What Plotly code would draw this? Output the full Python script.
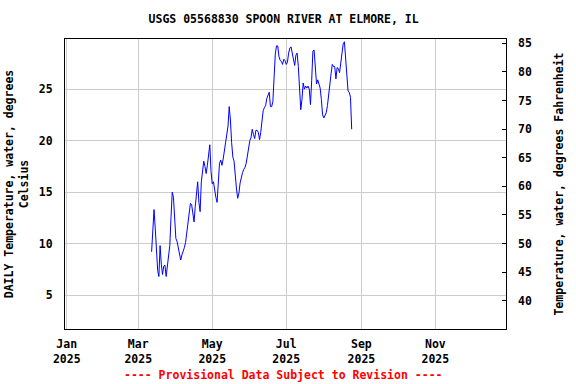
import datetime as dt
import plotly.graph_objects as go

start_date = "2025-03-12"
temps_c = [
    9.2, 11.3, 13.3, 11.5, 9.0, 7.4, 6.8, 9.8, 8.0, 7.0,
    7.8, 7.9, 6.8, 7.8, 8.7, 9.8, 12.5, 15.0, 14.5, 12.3,
    10.5, 10.2, 9.6, 8.7, 8.4, 8.9, 9.2, 9.6, 10.1, 11.0,
    12.0, 13.2, 13.9, 13.8, 12.8, 12.1, 13.6, 15.0, 16.0, 14.0,
    13.1, 16.0, 17.3, 18.0, 17.5, 16.8, 17.6, 18.4, 19.6, 17.0,
    15.8, 16.0, 15.0, 14.5, 14.0, 16.0, 17.8, 18.1, 17.6, 18.2,
    19.0, 19.8, 20.6, 21.4, 23.3, 22.0, 19.8, 18.4, 18.0, 16.3,
    15.3, 14.4, 14.9, 15.9, 16.5, 16.9, 17.2, 17.4, 17.8, 18.7,
    19.6, 20.0, 20.3, 21.1, 20.6, 20.2, 21.0, 21.0, 20.8, 20.1,
    20.8, 22.1, 22.9, 23.2, 23.4, 24.1, 24.4, 24.7, 23.3, 23.3,
    23.8, 26.0, 28.4, 29.2, 29.2, 28.2, 27.8, 27.7, 27.4, 27.9,
    27.8, 27.4, 27.6, 28.5, 29.0, 29.1, 28.6, 27.8, 27.3, 28.3,
    28.5, 27.2, 24.8, 23.0, 24.0, 25.6, 25.0, 25.3, 25.1, 25.3,
    25.0, 23.5, 25.8, 28.7, 28.8, 27.0, 25.5, 25.9, 25.4, 25.1,
    24.0, 22.5, 22.2, 22.5, 22.7, 23.4, 24.6, 25.7, 26.5, 27.4,
    27.2, 27.2, 26.0, 27.1, 27.0, 26.6, 27.6, 28.9, 29.4, 29.6,
    28.0, 26.4, 24.8, 24.7, 24.2, 21.1,
]
x_tick_vals = ["2025-01-01", "2025-03-01", "2025-05-01", "2025-07-01", "2025-09-01", "2025-11-01"]
x_tick_text = ["Jan<br>2025", "Mar<br>2025", "May<br>2025", "Jul<br>2025", "Sep<br>2025", "Nov<br>2025"]
c_ticks = [5, 10, 15, 20, 25]
f_ticks = [40, 45, 50, 55, 60, 65, 70, 75, 80, 85]

d0 = dt.date.fromisoformat(start_date)
dates = [d0 + dt.timedelta(days=i) for i in range(len(temps_c))]
temps_f = [c * 9 / 5 + 32 for c in temps_c]

c_range = [1.7, 29.87]
f_range = [c * 9 / 5 + 32 for c in c_range]

FONT = dict(family="DejaVu Sans Mono", size=11.5, color="black", weight="bold")

fig = go.Figure()
fig.add_trace(go.Scatter(x=dates, y=temps_c, mode="lines",
                         line=dict(color="#0000FF", width=1),
                         showlegend=False, hoverinfo="skip"))
fig.add_trace(go.Scatter(x=dates, y=temps_f, mode="lines", yaxis="y2",
                         line=dict(color="rgba(0,0,0,0)", width=0),
                         showlegend=False, hoverinfo="skip"))

fig.update_layout(
    width=576, height=384,
    margin=dict(l=65, r=70, t=39, b=55, autoexpand=False),
    paper_bgcolor="white", plot_bgcolor="white",
    font=FONT,
    title=dict(text="USGS 05568830 SPOON RIVER AT ELMORE, IL",
               x=0.4957, xanchor="center", y=1 - 19 / 384, yanchor="middle",
               xref="paper", font=FONT),
    xaxis=dict(range=["2024-12-30 14:00", "2025-12-29 06:00"],
               tickvals=x_tick_vals, ticktext=x_tick_text, automargin=False,
               showgrid=True, gridcolor="#CCCCCC", gridwidth=1,
               showline=True, linecolor="black", linewidth=1, mirror=True,
               ticks="", ticklabelstandoff=4, zeroline=False, tickfont=FONT),
    yaxis=dict(range=c_range, tickvals=c_ticks, automargin=False,
               showgrid=True, gridcolor="#CCCCCC", gridwidth=1,
               showline=True, linecolor="black", linewidth=1, mirror=True,
               ticks="", ticklabelstandoff=9, zeroline=False, tickfont=FONT,
               title=dict(text="DAILY Temperature, water, degrees<br>Celsius",
                          font=FONT, standoff=7)),
    yaxis2=dict(range=f_range, tickvals=f_ticks, overlaying="y", side="right",
                automargin=False,
                showgrid=False, showline=False, zeroline=False,
                ticks="inside", ticklen=4, tickcolor="black",
                ticklabelstandoff=11, tickfont=FONT,
                title=dict(text="Temperature, water, degrees Fahrenheit",
                           font=FONT, standoff=24)),
    annotations=[dict(text="---- Provisional Data Subject to Revision ----",
                      x=0.4957, xref="paper", y=-(375 - 329) / 290, yref="paper",
                      yanchor="middle", xanchor="center", showarrow=False,
                      font=dict(family="DejaVu Sans Mono", size=11.5, color="red", weight="bold"))],
)

fig.write_html("out.html", config={"displayModeBar": False},
               post_script="document.body.style.margin='0';")
